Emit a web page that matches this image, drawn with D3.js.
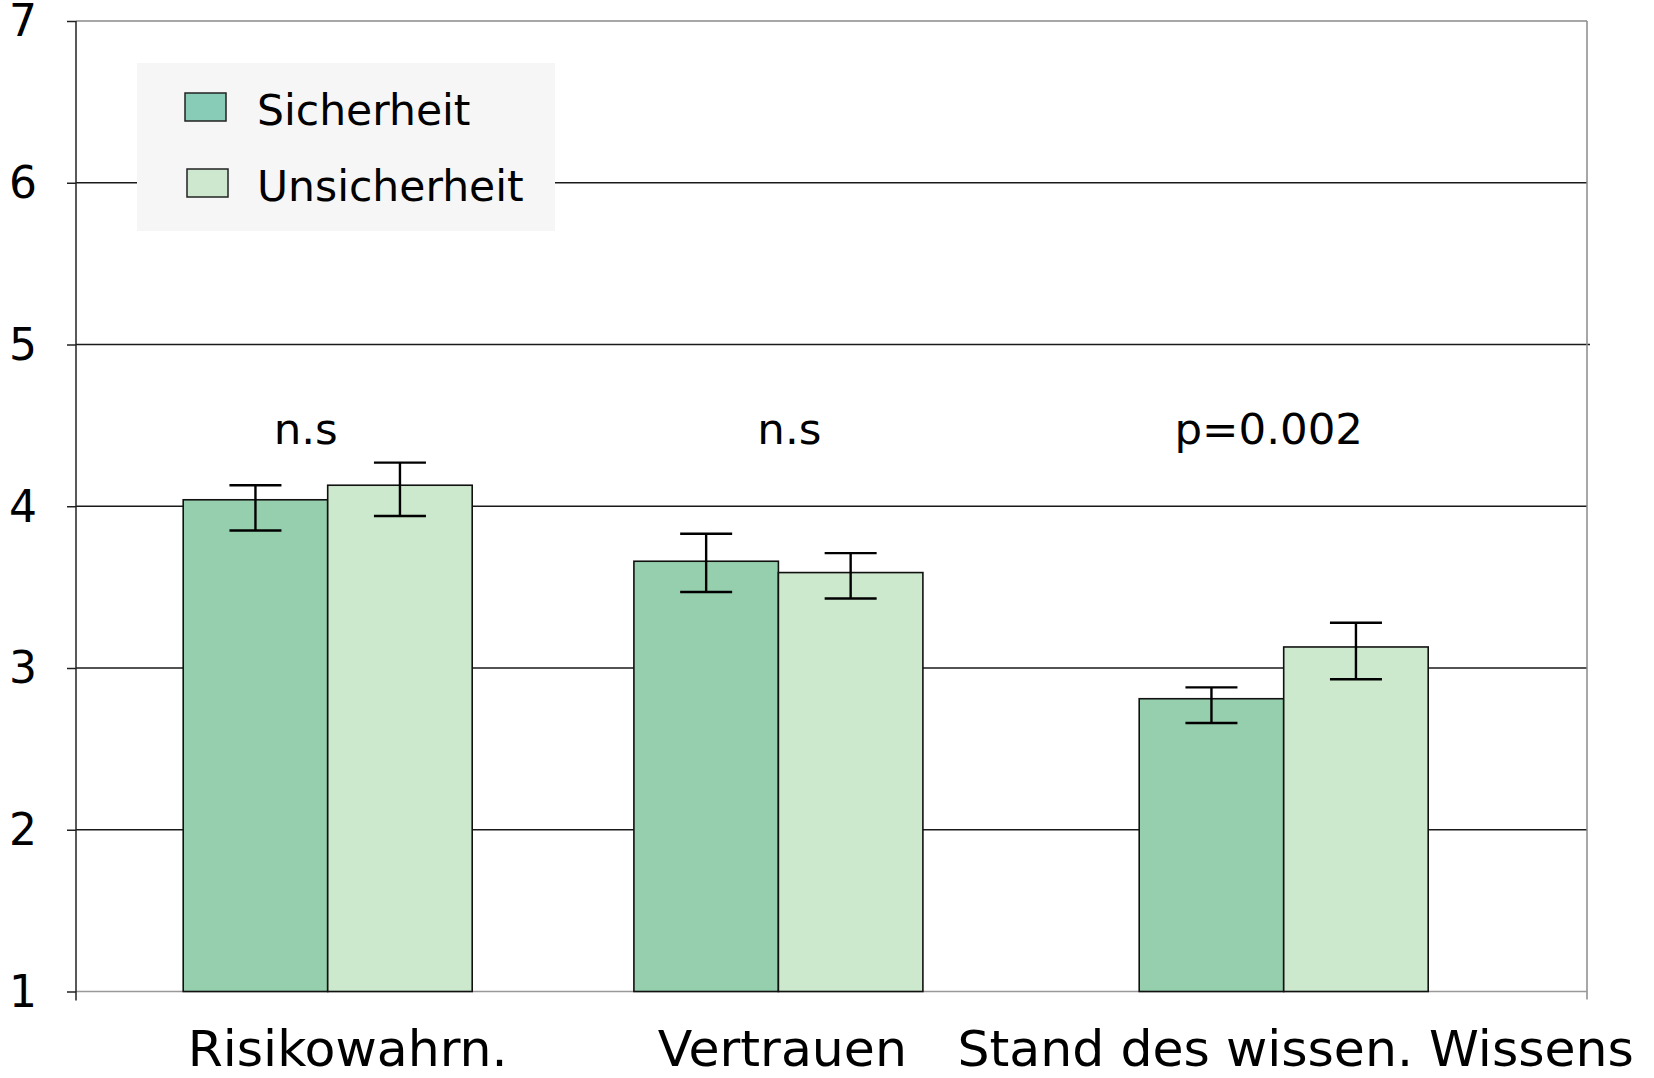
<!DOCTYPE html>
<html>
<head>
<meta charset="utf-8">
<script src="https://cdn.jsdelivr.net/npm/d3@7"></script>
<style>
  body { margin: 0; background: #fff; }
  svg { display: block; font-family: "DejaVu Sans", Verdana, sans-serif; }
</style>
</head>
<body>
<div id="chart"></div>
<script>
(function () {

    // data
    const categories = ['Risikowahrn.', 'Vertrauen', 'Stand des wissen. Wissens'];
    const seriesNames = ['Sicherheit', 'Unsicherheit'];
    const sicherheit = [4.04, 3.66, 2.81];
    const sicherheitLow = [3.85, 3.47, 2.66];
    const sicherheitHigh = [4.13, 3.83, 2.88];
    const unsicherheit = [4.13, 3.59, 3.13];
    const unsicherheitLow = [3.94, 3.43, 2.93];
    const unsicherheitHigh = [4.27, 3.71, 3.28];
    const annotations = ['n.s', 'n.s', 'p=0.002'];
    const yTicks = [1, 2, 3, 4, 5, 6, 7];

    const width = 1654;
    const height = 1078;
    const left = 76, right = 1587, top = 21, bottom = 991.5;

    const barColor = { Sicherheit: '#96cfae', Unsicherheit: '#cce8cd' };
    const swatchColor = { Sicherheit: '#88ccb8', Unsicherheit: '#cde8cf' };

    const svg = d3.select('#chart')
        .append('svg')
        .attr('width', width)
        .attr('height', height);

    const y = d3.scaleLinear().domain([1, 7]).range([bottom, top]);

    // groups are not evenly spaced in the original
    const x = d3.scaleOrdinal().domain(categories).range([327.7, 778.4, 1283.7]);
    const xInner = d3.scaleBand().domain(seriesNames).range([-144.5, 144.5]);

    const rows = categories.map((c, i) => ({
        category: c,
        note: annotations[i],
        bars: [
            { series: 'Sicherheit', value: sicherheit[i], lo: sicherheitLow[i], hi: sicherheitHigh[i] },
            { series: 'Unsicherheit', value: unsicherheit[i], lo: unsicherheitLow[i], hi: unsicherheitHigh[i] }
        ]
    }));

    // gridlines
    svg.append('g')
        .selectAll('line')
        .data(yTicks.filter(t => t > 1 && t < 7))
        .join('line')
        .attr('x1', left)
        .attr('x2', d => d === 5 ? right + 3 : right)
        .attr('y1', d => y(d))
        .attr('y2', d => y(d))
        .attr('stroke', '#1a1a1a')
        .attr('stroke-width', 1.3);

    // frame: top, right and bottom in gray
    svg.append('line')
        .attr('x1', left).attr('x2', right)
        .attr('y1', y(7)).attr('y2', y(7))
        .attr('stroke', '#8a8a8a').attr('stroke-width', 1.5);
    svg.append('line')
        .attr('x1', right).attr('x2', right)
        .attr('y1', y(7)).attr('y2', bottom + 8)
        .attr('stroke', '#8a8a8a').attr('stroke-width', 1.5);
    svg.append('line')
        .attr('x1', left).attr('x2', right)
        .attr('y1', bottom).attr('y2', bottom)
        .attr('stroke', '#999').attr('stroke-width', 1.5);

    // bars
    const groups = svg.append('g')
        .selectAll('g')
        .data(rows)
        .join('g')
        .attr('transform', d => `translate(${x(d.category)},0)`);

    groups.selectAll('rect')
        .data(d => d.bars)
        .join('rect')
        .attr('x', d => xInner(d.series))
        .attr('width', xInner.bandwidth())
        .attr('y', d => y(d.value))
        .attr('height', d => y(1) - y(d.value))
        .attr('fill', d => barColor[d.series])
        .attr('stroke', '#111')
        .attr('stroke-width', 1.6);

    // error bars
    const err = groups.selectAll('g.err')
        .data(d => d.bars)
        .join('g')
        .attr('class', 'err')
        .attr('transform', d => `translate(${xInner(d.series) + xInner.bandwidth() / 2},0)`)
        .attr('stroke', '#000')
        .attr('stroke-width', 2.4);
    err.append('line').attr('y1', d => y(d.lo)).attr('y2', d => y(d.hi));
    err.append('line').attr('x1', -26).attr('x2', 26).attr('y1', d => y(d.hi)).attr('y2', d => y(d.hi));
    err.append('line').attr('x1', -26).attr('x2', 26).attr('y1', d => y(d.lo)).attr('y2', d => y(d.lo));

    // significance notes
    const noteShift = [-22, 11, -15];
    groups.append('text')
        .attr('x', (d, i) => noteShift[i])
        .attr('y', 444)
        .attr('text-anchor', 'middle')
        .style('font-size', '43.5px')
        .text(d => d.note);

    // y axis
    const yAxis = svg.append('g')
        .attr('transform', `translate(${left},0)`)
        .call(d3.axisLeft(y).tickValues(yTicks).tickFormat(d3.format('d')).tickSize(9).tickPadding(30));
    yAxis.select('.domain').remove();
    yAxis.selectAll('.tick line').attr('stroke', '#222').attr('stroke-width', 1.5);
    yAxis.selectAll('.tick text')
        .attr('fill', '#000')
        .attr('dy', '0.34em')
        .style('font-size', '44px')
        .style('font-family', '"DejaVu Sans", Verdana, sans-serif');
    svg.append('line')
        .attr('x1', left).attr('x2', left)
        .attr('y1', top).attr('y2', bottom + 9)
        .attr('stroke', '#222').attr('stroke-width', 1.5);

    // category labels
    const labelShift = [20, 4, 12];
    svg.append('g')
        .selectAll('text')
        .data(categories)
        .join('text')
        .attr('x', (d, i) => x(d) + labelShift[i])
        .attr('y', 1066)
        .attr('text-anchor', 'middle')
        .style('font-size', '50.5px')
        .text(d => d);

    // legend
    const legend = svg.append('g').attr('transform', 'translate(137,63)');
    legend.append('rect')
        .attr('width', 418).attr('height', 168)
        .attr('fill', '#f6f6f6');
    const items = legend.selectAll('g')
        .data(seriesNames)
        .join('g')
        .attr('transform', (d, i) => `translate(0,${i * 76})`);
    items.append('rect')
        .attr('x', (d, i) => 48 + i * 2)
        .attr('y', 30)
        .attr('width', 41).attr('height', 28)
        .attr('fill', d => swatchColor[d])
        .attr('stroke', '#222')
        .attr('stroke-width', 1.5);
    items.append('text')
        .attr('x', 120)
        .attr('y', 62)
        .style('font-size', '42.5px')
        .text(d => d);
})();
</script>
</body>
</html>
